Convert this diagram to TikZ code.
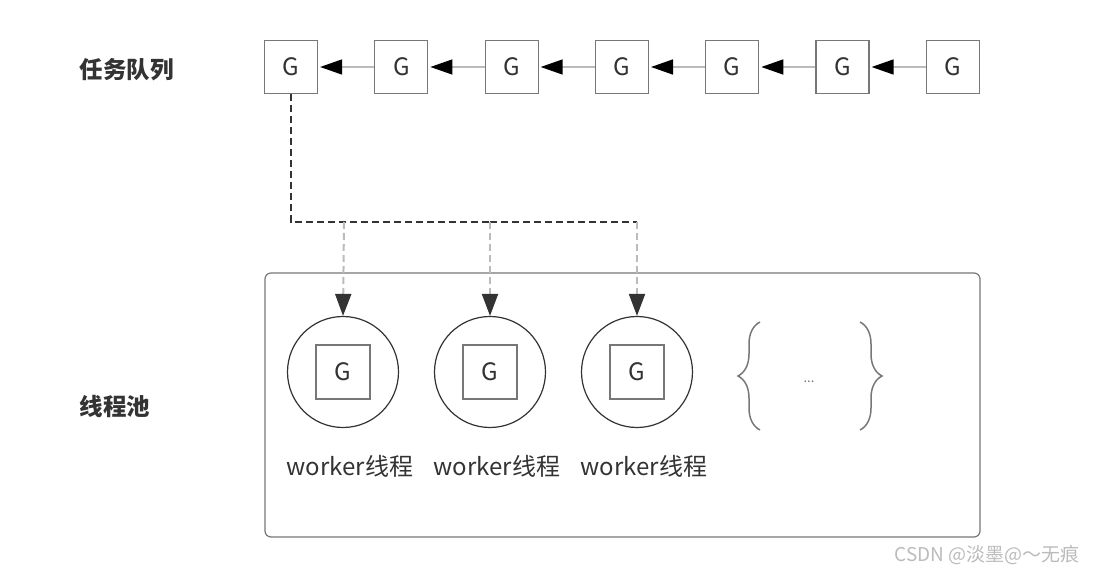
\documentclass[tikz,border=0pt]{standalone}
\usepackage{fontspec}
\setmainfont{Noto Sans CJK SC}
\usetikzlibrary{arrows.meta,positioning,decorations.pathreplacing}
\definecolor{edge}{HTML}{777777}
\definecolor{lite}{HTML}{BBBBBB}
\definecolor{ink}{HTML}{333333}
\tikzset{
	qbox/.style={draw=edge, line width=1.2pt, minimum size=53pt, inner sep=0pt, font=\fontsize{24}{24}\selectfont, text=ink},
	gbox/.style={draw=edge, line width=2pt, minimum size=54pt, inner sep=0pt, font=\fontsize{24}{24}\selectfont, text=ink},
	worker/.style={draw=ink, line width=1.2pt, circle, minimum size=111pt, inner sep=0pt},
	link/.style={lite, line width=1.5pt, -{Triangle[length=22pt, width=15pt, fill=black, color=black]}, shorten >=2pt},
	lbl/.style={font=\fontsize{23.5}{23.5}\selectfont\bfseries, text=ink}
}
\begin{document}
\begin{tikzpicture}[x=1pt, y=-1pt]
		\useasboundingbox (0,0) rectangle (1096,575);

		% 任务队列
		\node[lbl, anchor=west] (queue) at (76,70) {任务队列};
		\foreach \i in {1,...,7}
			\node[qbox] (q\i) at ({291+110.3*(\i-1)},67) {G};
		\foreach \i [evaluate=\i as \j using int(\i+1)] in {1,...,6}
			\draw[link] (q\j) -- (q\i);

		% 分发
		\coordinate (turn) at (291,222);
		\coordinate (j1) at (344,222);
		\coordinate (j2) at (490,222);
		\coordinate (j3) at (637,222);
		\draw[ink, line width=2.2pt, dash pattern=on 7pt off 4pt] (q1.south) -- (turn) -- (j2);
		\draw[ink, line width=1.2pt, dash pattern=on 7pt off 4pt] (j2) -- (j3);

		% 线程池
		\draw[edge, line width=1.2pt, rounded corners=6pt] (265,273) rectangle (980,537);
		\node[lbl, anchor=west] (pool) at (76,407) {线程池};
		\foreach \x/\n in {343/1, 490/2, 637/3} {
			\node[worker] (w\n) at (\x,372) {};
			\node[gbox] (g\n) at (w\n) {G};
			\node[font=\fontsize{24}{24}\selectfont, text=ink] (t\n) at (\x+7,466) {worker线程};
			\draw[lite, line width=2pt, dash pattern=on 7pt off 4pt,
				-{Triangle[length=22pt, width=16pt, fill=ink, color=ink]}] (j\n) -- (w\n.north);
		}

		% 省略
		\draw[edge, line width=1.5pt, decorate, decoration={brace, amplitude=22pt}] (760,430) -- (760,322);
		\draw[edge, line width=1.5pt, decorate, decoration={brace, amplitude=22pt}] (860,322) -- (860,430);
		\node[text=edge, font=\fontsize{13}{13}\selectfont] (more) at (809,382) {...};

		\node[text=lite, font=\fontsize{19}{19}\selectfont, anchor=east] (mark) at (1083,555) {CSDN @淡墨@～无痕};
	\end{tikzpicture}
\end{document}
